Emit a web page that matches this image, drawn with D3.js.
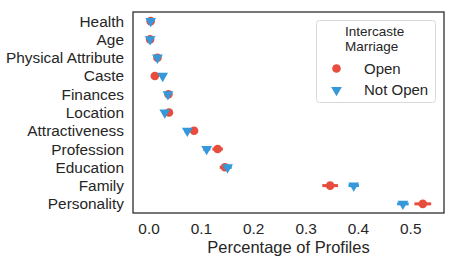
<!DOCTYPE html>
<html>
<head>
<meta charset="utf-8">
<script src="https://cdn.jsdelivr.net/npm/d3@7"></script>
<style>
  html, body { margin: 0; padding: 0; background: #fff; }
  svg text { font-family: "Liberation Sans", Arial, sans-serif; fill: #262626; }
</style>
</head>
<body>
<div id="chart"></div>
<script>
const width = 456;
const height = 263;

const categories = ["Health", "Age", "Physical Attribute", "Caste", "Finances", "Location",
  "Attractiveness", "Profession", "Education", "Family", "Personality"];
const openValues = [0.003, 0.002, 0.016, 0.011, 0.037, 0.038, 0.086, 0.131, 0.145, 0.346, 0.523];
const openErrors = [0.003, 0.003, 0.004, 0.004, 0.005, 0.005, 0.007, 0.010, 0.010, 0.015, 0.016];
const notOpenValues = [0.003, 0.002, 0.016, 0.026, 0.036, 0.030, 0.073, 0.110, 0.150, 0.391, 0.485];
const notOpenErrors = [0.002, 0.002, 0.003, 0.003, 0.004, 0.004, 0.006, 0.007, 0.008, 0.010, 0.011];
const xTicks = [0.0, 0.1, 0.2, 0.3, 0.4, 0.5];

const series = [
  { name: "Open", values: openValues, errors: openErrors, color: "#e74c3c", marker: "circle" },
  { name: "Not Open", values: notOpenValues, errors: notOpenErrors, color: "#3498db", marker: "triangle" },
];

const margin = { top: 12, right: 12, bottom: 50, left: 133 };

const svg = d3.select("#chart")
  .append("svg")
  .attr("width", width)
  .attr("height", height);

const x = d3.scaleLinear()
  .domain([-0.0307, 0.5635])
  .range([margin.left, width - margin.right]);

const y = d3.scaleBand()
  .domain(categories)
  .range([margin.top, height - margin.bottom])
  .padding(0);

// y labels
svg.append("g")
  .selectAll("text")
  .data(categories)
  .join("text")
  .attr("x", margin.left - 9)
  .attr("y", d => y(d) + y.bandwidth() / 2)
  .attr("dy", "0.36em")
  .attr("text-anchor", "end")
  .attr("font-size", 15.4)
  .text(d => d);

// x ticks
svg.append("g")
  .selectAll("text")
  .data(xTicks)
  .join("text")
  .attr("x", d => x(d))
  .attr("y", height - margin.bottom + 21)
  .attr("text-anchor", "middle")
  .attr("font-size", 15.4)
  .text(d => d3.format(".1f")(d));

svg.append("text")
  .attr("x", (margin.left + width - margin.right) / 2)
  .attr("y", height - margin.bottom + 40)
  .attr("text-anchor", "middle")
  .attr("font-size", 16.5)
  .text("Percentage of Profiles");

const triangle = d3.symbol().type(d3.symbolTriangle).size(50);

series.forEach(s => {
  const g = svg.append("g");
  g.selectAll("line")
    .data(categories)
    .join("line")
    .attr("x1", (d, i) => x(s.values[i] - s.errors[i]))
    .attr("x2", (d, i) => x(s.values[i] + s.errors[i]))
    .attr("y1", d => y(d) + y.bandwidth() / 2)
    .attr("y2", d => y(d) + y.bandwidth() / 2)
    .attr("stroke", s.color)
    .attr("stroke-width", 3);

  if (s.marker === "circle") {
    g.selectAll("circle")
      .data(categories)
      .join("circle")
      .attr("cx", (d, i) => x(s.values[i]))
      .attr("cy", d => y(d) + y.bandwidth() / 2)
      .attr("r", 4.3)
      .attr("fill", s.color);
  } else {
    g.selectAll("path")
      .data(categories)
      .join("path")
      .attr("d", triangle)
      .attr("transform", (d, i) => `translate(${x(s.values[i])},${y(d) + y.bandwidth() / 2}) rotate(180)`)
      .attr("fill", s.color);
  }
});

// frame
svg.append("rect")
  .attr("x", margin.left)
  .attr("y", margin.top)
  .attr("width", width - margin.right - margin.left)
  .attr("height", height - margin.bottom - margin.top)
  .attr("fill", "none")
  .attr("stroke", "#262626")
  .attr("stroke-width", 1.25);

// legend
const legend = svg.append("g");
legend.append("rect")
  .attr("x", 316.5)
  .attr("y", 20.5)
  .attr("width", 119)
  .attr("height", 82)
  .attr("rx", 3)
  .attr("fill", "#fff")
  .attr("stroke", "#d8d8d8")
  .attr("stroke-width", 1);

["Intercaste", "Marriage"].forEach((t, i) => {
  legend.append("text")
    .attr("x", 345)
    .attr("y", 36 + i * 14.5)
    .attr("font-size", 13.5)
    .text(t);
});

series.forEach((s, i) => {
  const cy = 68.5 + i * 21.5;
  if (s.marker === "circle") {
    legend.append("circle").attr("cx", 336.5).attr("cy", cy).attr("r", 4.3).attr("fill", s.color);
  } else {
    legend.append("path")
      .attr("d", triangle)
      .attr("transform", `translate(336.5,${cy}) rotate(180)`)
      .attr("fill", s.color);
  }
  legend.append("text")
    .attr("x", 364)
    .attr("y", cy)
    .attr("dy", "0.36em")
    .attr("font-size", 15)
    .text(s.name);
});
</script>
</body>
</html>
